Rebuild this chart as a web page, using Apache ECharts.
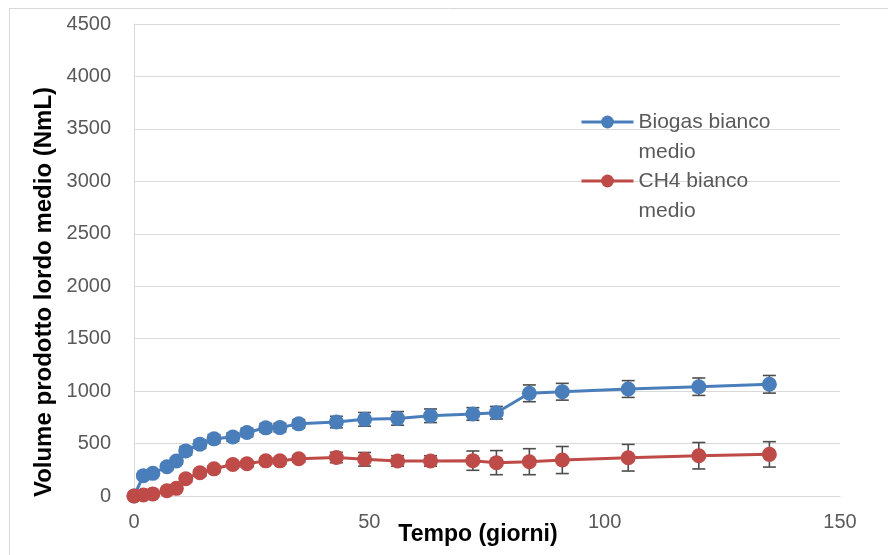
<!DOCTYPE html>
<html>
<head>
<meta charset="utf-8">
<script src="https://cdn.jsdelivr.net/npm/echarts@6/dist/echarts.min.js"></script>
<style>html,body{margin:0;padding:0;background:#fff}#c{width:888px;height:555px}</style>
</head>
<body>
<div id="c"></div>
<script>
var days = [0,2,4,7,9,11,14,17,21,24,28,31,35,43,49,56,63,72,77,84,91,105,120,135];
var biogas = [0,194,216,279,334,430,494,545,562,605,650,652,688,705,731,740,765,782,794,979,994,1020,1042,1065];
var biogasErr = [0,20,25,30,30,40,40,40,40,40,40,40,40,55,65,65,65,60,60,80,80,80,83,84];
var ch4 = [0,10,20,50,73,165,221,259,300,308,335,335,355,367,350,334,334,337,318,327,343,365,384,397];
var ch4Err = [0,10,10,20,20,30,30,30,30,30,30,30,30,50,65,50,50,92,115,124,129,127,126,121];
var seriesNames = ['Biogas bianco\nmedio', 'CH4 bianco\nmedio'];
var xTicks = {min:0, max:150, interval:50};
var yTicks = {min:0, max:4500, interval:500};

var BLUE = '#4A7EBB', RED = '#BE4B48';
var FONT = '"Liberation Sans", Arial, sans-serif';

function pairs(xs, ys){ return xs.map(function(x,i){ return [x, ys[i]]; }); }
function errData(xs, ys, es){ return xs.map(function(x,i){ return [x, ys[i]-es[i], ys[i]+es[i]]; }); }

function errRender(params, api){
  var x = api.value(0), lo = api.value(1), hi = api.value(2);
  var p1 = api.coord([x, hi]), p2 = api.coord([x, lo]);
  var w = 6.5;
  var st = {stroke:'#4D4D4D', lineWidth:1.6};
  return {type:'group', children:[
    {type:'line', shape:{x1:p1[0],y1:p1[1],x2:p2[0],y2:p2[1]}, style:st},
    {type:'line', shape:{x1:p1[0]-w,y1:p1[1],x2:p1[0]+w,y2:p1[1]}, style:st},
    {type:'line', shape:{x1:p2[0]-w,y1:p2[1],x2:p2[0]+w,y2:p2[1]}, style:st}
  ]};
}

var chart = echarts.init(document.getElementById('c'), null, {renderer:'canvas'});
chart.setOption({
  animation:false,
  backgroundColor:'#ffffff',
  grid:{left:134, right:48, top:24, bottom:59, containLabel:false, outerBoundsMode:'none'},
  graphic:[
    {type:'line', shape:{x1:9.5,y1:8,x2:9.5,y2:555}, style:{stroke:'#D9D9D9', lineWidth:1}, silent:true},
    {type:'line', shape:{x1:9,y1:8.5,x2:888,y2:8.5}, style:{stroke:'#D9D9D9', lineWidth:1}, silent:true}
  ],
  legend:{
    orient:'vertical', left:580, top:77, padding:0,
    itemWidth:52, itemHeight:16, itemGap:-31,
    data:seriesNames,
    lineStyle:{width:3},
    formatter:function(n){ return '\n' + n; },
    textStyle:{fontFamily:FONT, fontSize:21, color:'#595959', lineHeight:30}
  },
  xAxis:{
    type:'value', min:xTicks.min, max:xTicks.max, interval:xTicks.interval,
    name:'Tempo (giorni)', nameLocation:'middle', nameGap:27, nameMoveOverlap:false,
    nameTextStyle:{fontFamily:FONT, fontSize:23, fontWeight:'bold', color:'#000', padding:[0,18,0,0]},
    axisLine:{show:true, onZero:false, lineStyle:{color:'#D9D9D9', width:1}},
    axisTick:{show:false},
    splitLine:{show:false},
    axisLabel:{fontFamily:FONT, fontSize:20, color:'#595959', margin:16}
  },
  yAxis:{
    type:'value', min:yTicks.min, max:yTicks.max, interval:yTicks.interval,
    name:'Volume prodotto lordo medio (NmL)', nameLocation:'middle', nameGap:78, nameMoveOverlap:false,
    nameTextStyle:{fontFamily:FONT, fontSize:24, fontWeight:'bold', color:'#000', padding:[0,64,0,0]},
    axisLine:{show:true, lineStyle:{color:'#D9D9D9', width:1}},
    axisTick:{show:false},
    splitLine:{show:true, lineStyle:{color:'#D9D9D9', width:1}},
    axisLabel:{fontFamily:FONT, fontSize:20, color:'#595959', margin:23, formatter:function(v){ return String(v); }}
  },
  series:[
    {type:'custom', name:'errB', renderItem:errRender, data:errData(days,biogas,biogasErr), z:1, silent:true, encode:{x:0,y:[1,2]}},
    {type:'custom', name:'errC', renderItem:errRender, data:errData(days,ch4,ch4Err), z:1, silent:true, encode:{x:0,y:[1,2]}},
    {type:'line', name:seriesNames[0], data:pairs(days,biogas), z:3, symbol:'circle', symbolSize:15,
     itemStyle:{color:BLUE}, lineStyle:{color:BLUE, width:3}},
    {type:'line', name:seriesNames[1], data:pairs(days,ch4), z:3, symbol:'circle', symbolSize:15,
     itemStyle:{color:RED}, lineStyle:{color:RED, width:3}}
  ]
});
</script>
</body>
</html>
